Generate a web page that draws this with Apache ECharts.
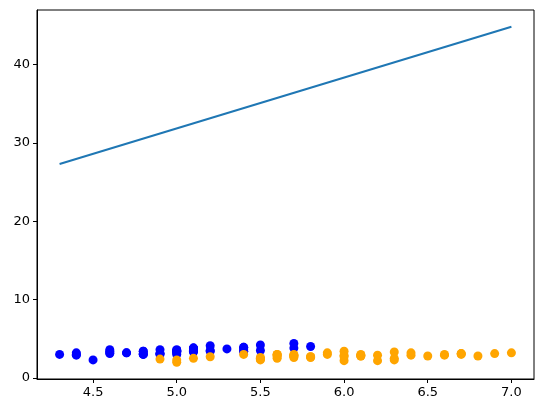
<!DOCTYPE html>
<html><head><meta charset="utf-8">
<script src="https://cdn.jsdelivr.net/npm/echarts@6/dist/echarts.min.js"></script>
<style>html,body{margin:0;padding:0;background:#fff}#c{width:543px;height:413px}</style>
</head><body><div id="c"></div>
<script>
const setosaX = [5.1,4.9,4.7,4.6,5.0,5.4,4.6,5.0,4.4,4.9,5.4,4.8,4.8,4.3,5.8,5.7,5.4,5.1,5.7,5.1,5.4,5.1,4.6,5.1,4.8,5.0,5.0,5.2,5.2,4.7,4.8,5.4,5.2,5.5,4.9,5.0,5.5,4.9,4.4,5.1,5.0,4.5,4.4,5.0,5.1,4.8,5.1,4.6,5.3,5.0];
const setosaY = [3.5,3.0,3.2,3.1,3.6,3.9,3.4,3.4,2.9,3.1,3.7,3.4,3.0,3.0,4.0,4.4,3.9,3.5,3.8,3.8,3.4,3.7,3.6,3.3,3.4,3.0,3.4,3.5,3.4,3.2,3.1,3.4,4.1,4.2,3.1,3.2,3.5,3.6,3.0,3.4,3.5,2.3,3.2,3.5,3.8,3.0,3.8,3.2,3.7,3.3];
const versiX = [7.0,6.4,6.9,5.5,6.5,5.7,6.3,4.9,6.6,5.2,5.0,5.9,6.0,6.1,5.6,6.7,5.6,5.8,6.2,5.6,5.9,6.1,6.3,6.1,6.4,6.6,6.8,6.7,6.0,5.7,5.5,5.5,5.8,6.0,5.4,6.0,6.7,6.3,5.6,5.5,5.5,6.1,5.8,5.0,5.6,5.7,5.7,6.2,5.1,5.7];
const versiY = [3.2,3.2,3.1,2.3,2.8,2.8,3.3,2.4,2.9,2.7,2.0,3.0,2.2,2.9,2.9,3.1,3.0,2.7,2.2,2.5,3.2,2.8,2.5,2.8,2.9,3.0,2.8,3.0,2.9,2.6,2.4,2.4,2.7,2.7,3.0,3.4,3.1,2.3,3.0,2.5,2.6,3.0,2.6,2.3,2.7,3.0,2.9,2.9,2.5,2.8];
const lineX = [4.3, 7.0];
const lineY = [27.3, 44.8];
const xTicks = [4.5, 5.0, 5.5, 6.0, 6.5, 7.0];
const yTicks = [0, 10, 20, 30, 40];

const zip = (a, b) => a.map((v, i) => [v, b[i]]);
const xMin = 4.3 - 0.05 * 2.7, xMax = 7.0 + 0.05 * 2.7;
const yLo = 2.0, yHi = 44.8;
const yMin = yLo - 0.05 * (yHi - yLo), yMax = yHi + 0.05 * (yHi - yLo);
const font = 'DejaVu Sans';
const chart = echarts.init(document.getElementById('c'));
chart.setOption({
  animation: false,
  grid: { left: 37, right: 9, top: 10, bottom: 34, show: true, borderColor: '#000', borderWidth: 1, backgroundColor: 'transparent' },
  xAxis: {
    type: 'value', min: xMin, max: xMax,
    axisLine: { show: true, onZero: false, lineStyle: { color: '#000', width: 1 } },
    axisTick: { show: true, inside: false, length: 4, customValues: xTicks, lineStyle: { color: '#000' } },
    axisLabel: { customValues: xTicks, color: '#000', fontFamily: font, fontSize: 13, margin: 7, formatter: v => v.toFixed(1) },
    splitLine: { show: false }
  },
  yAxis: {
    type: 'value', min: yMin, max: yMax,
    axisLine: { show: true, onZero: false, lineStyle: { color: '#000', width: 1 } },
    axisTick: { show: true, inside: false, length: 4, customValues: yTicks, lineStyle: { color: '#000' } },
    axisLabel: { customValues: yTicks, color: '#000', fontFamily: font, fontSize: 13, margin: 7 },
    splitLine: { show: false }
  },
  series: [
    { type: 'line', data: zip(lineX, lineY), symbol: 'none', lineStyle: { color: '#1f77b4', width: 2 }, z: 2 },
    { type: 'scatter', data: zip(setosaX, setosaY), symbolSize: 9, itemStyle: { color: '#0000ff', opacity: 1 }, z: 3 },
    { type: 'scatter', data: zip(versiX, versiY), symbolSize: 9, itemStyle: { color: '#ffa500', opacity: 1 }, z: 4 }
  ]
});
</script></body></html>
